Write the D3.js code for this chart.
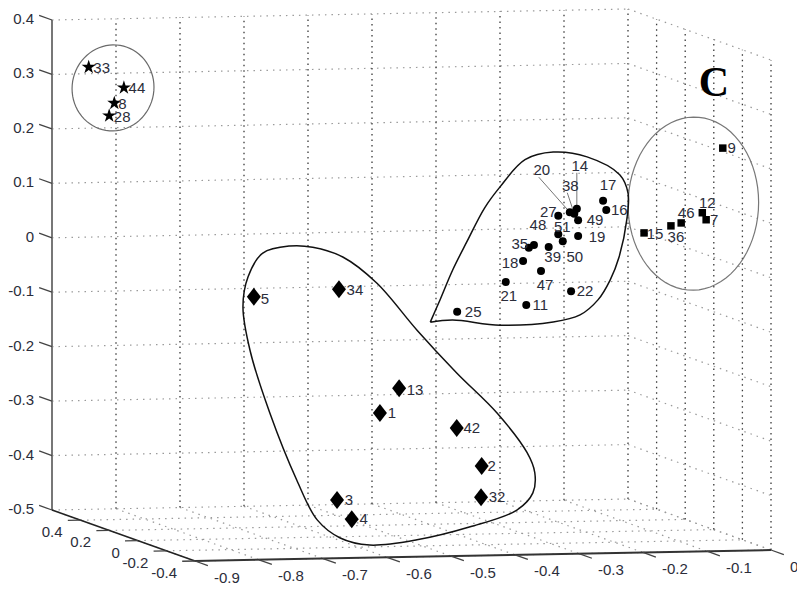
<!DOCTYPE html>
<html>
<head>
<meta charset="utf-8">
<script src="https://cdn.jsdelivr.net/npm/d3@7"></script>
<style>
body { margin: 0; background: #fff; }
svg { display: block; }
text { font-family: "Liberation Sans", Arial, sans-serif; }
</style>
</head>
<body>
<svg width="797" height="589"></svg>
<script>
// tick values of the three axes
var xTicks = [-0.9, -0.8, -0.7, -0.6, -0.5, -0.4, -0.3, -0.2, -0.1, 0];
var yTicks = [-0.4, -0.2, 0, 0.2, 0.4];
var zTicks = [-0.5, -0.4, -0.3, -0.2, -0.1, 0, 0.1, 0.2, 0.3, 0.4];

// stars
var starIds = ['33', '44', '8', '28'];
var starX = [-0.865, -0.810, -0.825, -0.833];
var starZ = [0.322, 0.283, 0.255, 0.232];
var starDepth = 0.5;

// diamonds
var diamondIds = ['5', '34', '13', '1', '42', '2', '32', '3', '4'];
var diamondX = [-0.674, -0.541, -0.447, -0.477, -0.357, -0.318, -0.319, -0.544, -0.521];
var diamondZ = [-0.076, -0.065, -0.249, -0.294, -0.324, -0.395, -0.452, -0.452, -0.488];
var diamondDepth = 0.2;

// dots
var dotIds = ['17', '16', '49', '19', '27', '20', '38', '14', '51', '50', '48', '39', '35', '18', '47', '21', '11', '22', '25'];
var dotX = [-0.173, -0.168, -0.212, -0.212, -0.243, -0.225, -0.218, -0.214, -0.243, -0.236, -0.281, -0.258, -0.289, -0.298, -0.270, -0.325, -0.293, -0.223, -0.401];
var dotZ = [0.108, 0.091, 0.073, 0.044, 0.082, 0.088, 0.085, 0.094, 0.048, 0.035, 0.029, 0.025, 0.024, 0.000, -0.019, -0.038, -0.081, -0.057, -0.091];
var dotDepth = 0.0;

// squares
var squareIds = ['9', '12', '7', '46', '36', '15'];
var squareX = [-0.053, -0.085, -0.079, -0.118, -0.134, -0.176];
var squareZ = [0.230, 0.112, 0.099, 0.094, 0.089, 0.077];
var squareDepth = -0.3;

// hand drawn cluster outlines (x, z pairs at the cluster depth)
var starRing = {cx: -0.827, cz: 0.283, rx: 0.064, rz: 0.079};
var squareRing = {cx: -0.099, cz: 0.129, rx: 0.102, rz: 0.159};
var diamondHull = [[-0.618, 0.016], [-0.582, 0.013], [-0.535, -0.006], [-0.482, -0.055], [-0.419, -0.143],
  [-0.357, -0.223], [-0.294, -0.298], [-0.247, -0.372], [-0.235, -0.409], [-0.238, -0.446], [-0.263, -0.477],
  [-0.336, -0.506], [-0.419, -0.528], [-0.493, -0.536], [-0.539, -0.522], [-0.575, -0.488], [-0.607, -0.414],
  [-0.649, -0.290], [-0.680, -0.174], [-0.691, -0.094], [-0.683, -0.039], [-0.660, 0.004]];
var dotHull = [[-0.443, -0.109], [-0.428, -0.069], [-0.408, -0.014], [-0.386, 0.037], [-0.358, 0.099],
  [-0.334, 0.137], [-0.295, 0.186], [-0.251, 0.199], [-0.198, 0.189], [-0.147, 0.155], [-0.134, 0.121],
  [-0.136, 0.072], [-0.148, 0.004], [-0.162, -0.038], [-0.181, -0.074], [-0.209, -0.101], [-0.251, -0.113],
  [-0.334, -0.117], [-0.408, -0.106], [-0.443, -0.109]];

// where each number sits relative to its marker (pixels)
var labelShift = {
  '33': [13, 1], '44': [13, 0], '8': [8, 1], '28': [13, 1],
  '5': [11, 2], '34': [16, 1], '13': [16, 2], '1': [12, 0], '42': [15, 0], '2': [10, 0], '32': [16, 0], '3': [12, 0], '4': [12, 0],
  '17': [5, -16], '16': [13, 0], '49': [17, 0], '19': [19, 1], '27': [-10, -4], '20': [-28, -42], '38': [-4, -28], '14': [3, -43],
  '51': [4, -7], '50': [12, 16], '48': [4, -20], '39': [4, 10], '35': [-9, -4], '18': [-13, 2], '47': [4, 14], '21': [3, 14],
  '11': [14, 0], '22': [14, 0], '25': [16, 0],
  '9': [9, 0], '12': [5, -10], '7': [8, 0], '46': [5, -10], '36': [5, 11], '15': [11, 1]
};
var leaderIds = ['20', '38', '14'];

var svg = d3.select('svg');

// oblique view of the box: x to the right, y into the page, z up
var X = d3.scaleLinear().domain([-0.9, 0]).range([0, 576]);
var Xdrop = d3.scaleLinear().domain([-0.9, 0]).range([0, -11]);
var Yx = d3.scaleLinear().domain([0.6, -0.4]).range([0, 143]);
var Yy = d3.scaleLinear().domain([0.6, -0.4]).range([0, 51]);
var Z = d3.scaleLinear().domain([-0.5, 0.4]).range([0, -490]);

function proj(x, y, z) {
  return [52 + X(x) + Yx(y), 510 + Xdrop(x) + Yy(y) + Z(z)];
}

var grid = svg.append('g');
function gridLine(a, b, dark) {
  var p = proj(a[0], a[1], a[2]), q = proj(b[0], b[1], b[2]);
  grid.append('line')
    .attr('x1', p[0]).attr('y1', p[1]).attr('x2', q[0]).attr('y2', q[1])
    .attr('stroke', dark ? '#3a3a3a' : '#9a9a9a')
    .attr('stroke-width', dark ? 1.3 : 1.2)
    .attr('stroke-dasharray', dark ? '1.5,4' : '1.5,5');
}

// floor
xTicks.forEach(function(x) { gridLine([x, 0.6, -0.5], [x, -0.4, -0.5], false); });
yTicks.forEach(function(y) { gridLine([-0.9, y, -0.5], [0, y, -0.5], false); });
// back wall
zTicks.forEach(function(z) { gridLine([-0.9, 0.6, z], [0, 0.6, z], false); });
xTicks.forEach(function(x) { gridLine([x, 0.6, -0.5], [x, 0.6, 0.4], true); });
// right wall
zTicks.forEach(function(z) { gridLine([0, 0.6, z], [0, -0.4, z], false); });
yTicks.forEach(function(y) { gridLine([0, y, -0.5], [0, y, 0.4], true); });

// axes
var axes = svg.append('g');
function axisLine(a, b, color, w) {
  var p = proj(a[0], a[1], a[2]), q = proj(b[0], b[1], b[2]);
  axes.append('line')
    .attr('x1', p[0]).attr('y1', p[1]).attr('x2', q[0]).attr('y2', q[1])
    .attr('stroke', color).attr('stroke-width', w);
}
axisLine([-0.9, 0.6, -0.5], [-0.9, 0.6, 0.4], '#777', 2);
axisLine([-0.9, 0.6, -0.5], [-0.9, -0.4, -0.5], '#222', 1.5);
axisLine([-0.9, -0.4, -0.5], [0, -0.4, -0.5], '#333', 2);

var tickColor = '#2b2d3a';
function fmt(v) { return String(+v.toFixed(1)); }

zTicks.forEach(function(z) {
  axisLine([-0.9, 0.6, z], [-0.9, 0.69, z], '#444', 1.3);
  var p = proj(-0.9, 0.6, z);
  axes.append('text').attr('x', p[0] - 18).attr('y', p[1] + 4)
    .attr('text-anchor', 'end').attr('font-size', 15).attr('fill', tickColor).text(fmt(z));
});
yTicks.forEach(function(y) {
  axisLine([-0.9, y, -0.5], [-0.92, y, -0.5], '#444', 1.3);
  var p = proj(-0.9, y, -0.5);
  axes.append('text').attr('x', p[0] - 18).attr('y', p[1] + 17)
    .attr('text-anchor', 'end').attr('font-size', 15).attr('fill', tickColor).text(fmt(y));
});
xTicks.forEach(function(x) {
  axisLine([x, -0.4, -0.5], [x, -0.49, -0.5], '#444', 1.3);
  var p = proj(x, -0.4, -0.5);
  axes.append('text').attr('x', p[0] + 19).attr('y', p[1] + 21.5)
    .attr('text-anchor', 'start').attr('font-size', 15).attr('fill', tickColor).text(fmt(x));
});

// cluster outlines
var outline = d3.line();
function ring(r, depth) {
  return d3.range(0, 361, 5).map(function(a) {
    var t = a * Math.PI / 180;
    return proj(r.cx + r.rx * Math.cos(t), depth, r.cz + r.rz * Math.sin(t));
  });
}
svg.append('path').attr('d', outline.curve(d3.curveLinearClosed)(ring(starRing, starDepth)))
  .attr('fill', 'none').attr('stroke', '#6a6a6a').attr('stroke-width', 1.2);
svg.append('path').attr('d', outline.curve(d3.curveLinearClosed)(ring(squareRing, squareDepth)))
  .attr('fill', 'none').attr('stroke', '#777').attr('stroke-width', 1.2);
svg.append('path')
  .attr('d', d3.line().curve(d3.curveCatmullRomClosed.alpha(0.5))(diamondHull.map(function(d) { return proj(d[0], diamondDepth, d[1]); })))
  .attr('fill', 'none').attr('stroke', '#111').attr('stroke-width', 1.5);
svg.append('path')
  .attr('d', d3.line().curve(d3.curveCatmullRom.alpha(0.5))(dotHull.map(function(d) { return proj(d[0], dotDepth, d[1]); })))
  .attr('fill', 'none').attr('stroke', '#111').attr('stroke-width', 1.5);

// points
function cluster(ids, xs, zs, depth) {
  return ids.map(function(id, i) {
    var p = proj(xs[i], depth, zs[i]);
    return {id: id, sx: p[0], sy: p[1]};
  });
}
var stars = cluster(starIds, starX, starZ, starDepth);
var diamonds = cluster(diamondIds, diamondX, diamondZ, diamondDepth);
var dots = cluster(dotIds, dotX, dotZ, dotDepth);
var squares = cluster(squareIds, squareX, squareZ, squareDepth);

// leader lines from the crowded labels
var leaders = dots.filter(function(d) { return leaderIds.indexOf(d.id) >= 0; });
svg.selectAll('.leader').data(leaders).enter().append('line')
  .attr('x1', function(d) { return d.sx + labelShift[d.id][0] - 3; })
  .attr('y1', function(d) { return d.sy + labelShift[d.id][1] + 7; })
  .attr('x2', function(d) { return d.sx; })
  .attr('y2', function(d) { return d.sy; })
  .attr('stroke', '#777').attr('stroke-width', 1);

var starPath = d3.symbol().type(d3.symbolStar).size(62)();
var squarePath = d3.symbol().type(d3.symbolSquare).size(56)();
var diamondPath = 'M0,-9L7,0L0,9L-7,0Z';

svg.selectAll('.star').data(stars).enter().append('path')
  .attr('d', starPath).attr('fill', '#000')
  .attr('transform', function(d) { return 'translate(' + d.sx + ',' + d.sy + ')'; });
svg.selectAll('.diamond').data(diamonds).enter().append('path')
  .attr('d', diamondPath).attr('fill', '#000')
  .attr('transform', function(d) { return 'translate(' + d.sx + ',' + d.sy + ')'; });
svg.selectAll('.dot').data(dots).enter().append('circle')
  .attr('cx', function(d) { return d.sx; }).attr('cy', function(d) { return d.sy; })
  .attr('r', 4).attr('fill', '#000');
svg.selectAll('.square').data(squares).enter().append('path')
  .attr('d', squarePath).attr('fill', '#000')
  .attr('transform', function(d) { return 'translate(' + d.sx + ',' + d.sy + ')'; });

// point numbers
var all = stars.concat(diamonds, dots, squares);
svg.selectAll('.num').data(all).enter().append('text')
  .attr('x', function(d) { return d.sx + labelShift[d.id][0]; })
  .attr('y', function(d) { return d.sy + labelShift[d.id][1]; })
  .attr('dy', '0.35em')
  .attr('text-anchor', 'middle')
  .attr('font-size', 15)
  .attr('fill', '#2b2d3a')
  .text(function(d) { return d.id; });

// panel letter
svg.append('text').attr('x', 714).attr('y', 96)
  .attr('text-anchor', 'middle')
  .style('font-family', '"Liberation Serif", "Times New Roman", serif')
  .attr('font-weight', 'bold').attr('font-size', 42)
  .text('C');
</script>
</body>
</html>
